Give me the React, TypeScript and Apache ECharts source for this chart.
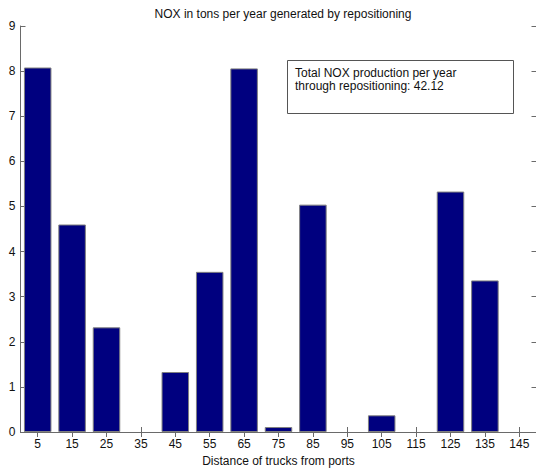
import React, { useEffect, useRef } from "react";
import * as echarts from "echarts";

// Distance bins (km from ports) and NOX tons per year for each bin
const distances: string[] = ["5", "15", "25", "35", "45", "55", "65", "75", "85", "95", "105", "115", "125", "135", "145"];
const noxTons: number[] = [8.08, 4.6, 2.32, 0, 1.33, 3.55, 8.06, 0.11, 5.04, 0, 0.37, 0, 5.33, 3.36, 0];
const yTicks = { min: 0, max: 9, interval: 1 };

const titleText = "NOX in tons per year generated by repositioning";
const xAxisTitle = "Distance of trucks from ports";
const noteLines: string[] = ["Total NOX production per year", "through repositioning: 42.12"];

const FONT = "'Liberation Sans', Arial, sans-serif";
const AXIS_COLOR = "#6a6a6a";
const TEXT_COLOR = "#111111";

export default function App() {
  const ref = useRef<HTMLDivElement>(null);

  useEffect(() => {
    if (!ref.current) return;
    const chart = echarts.init(ref.current, undefined, { renderer: "svg" });

    const tickStyle = { show: true, inside: true, length: 5, lineStyle: { color: AXIS_COLOR, width: 1 } };

    // empty bins get no outline so nothing shows on the baseline
    const barData = noxTons.map((v) =>
      v === 0 ? { value: v, itemStyle: { borderWidth: 0, opacity: 0 } } : v
    );

    chart.setOption({
      animation: false,
      backgroundColor: "#ffffff",
      textStyle: { fontFamily: FONT },
      title: {
        text: titleText,
        left: 278,
        textAlign: "center",
        top: 3,
        textStyle: { fontFamily: FONT, fontSize: 12, fontWeight: "normal", color: TEXT_COLOR },
      },
      grid: { left: 20.5, top: 26, width: 516, height: 406, containLabel: false, outerBoundsMode: "none" },
      xAxis: [
        {
          type: "category",
          data: distances,
          position: "bottom",
          boundaryGap: true,
          axisLine: { show: true, lineStyle: { color: AXIS_COLOR, width: 1 } },
          axisTick: { ...tickStyle, alignWithLabel: true },
          axisLabel: { color: TEXT_COLOR, fontSize: 12, fontFamily: FONT, margin: 6 },
          name: xAxisTitle,
          nameLocation: "middle",
          nameGap: 22,
          nameTextStyle: { color: TEXT_COLOR, fontSize: 12, fontFamily: FONT },
          splitLine: { show: false },
        },
        {
          type: "category",
          data: distances,
          position: "top",
          boundaryGap: true,
          axisLine: { show: true, lineStyle: { color: AXIS_COLOR, width: 1 } },
          axisTick: { ...tickStyle, alignWithLabel: true },
          axisLabel: { show: false },
          splitLine: { show: false },
        },
      ],
      yAxis: [
        {
          type: "value",
          ...yTicks,
          position: "left",
          axisLine: { show: true, lineStyle: { color: AXIS_COLOR, width: 1 } },
          axisTick: tickStyle,
          axisLabel: { color: TEXT_COLOR, fontSize: 12, fontFamily: FONT, margin: 5 },
          splitLine: { show: false },
        },
        {
          type: "value",
          ...yTicks,
          position: "right",
          axisLine: { show: true, lineStyle: { color: AXIS_COLOR, width: 1 } },
          axisTick: tickStyle,
          axisLabel: { show: false },
          splitLine: { show: false },
        },
      ],
      series: [
        {
          type: "bar",
          xAxisIndex: 0,
          yAxisIndex: 0,
          data: barData,
          barWidth: "80%",
          itemStyle: { color: "#00007f", borderColor: "#808080", borderWidth: 1 },
        },
      ],
      graphic: [
        {
          type: "rect",
          shape: { x: 287.5, y: 60.5, width: 226, height: 53 },
          style: { fill: "#ffffff", stroke: "#555555", lineWidth: 1 },
          z: 10,
        },
        {
          type: "text",
          x: 295,
          y: 66,
          style: {
            text: noteLines.join("\n"),
            fontFamily: FONT,
            fontSize: 12,
            lineHeight: 13,
            fill: TEXT_COLOR,
          },
          z: 11,
        },
      ],
    });

    return () => chart.dispose();
  }, []);

  return <div ref={ref} style={{ position: "fixed", left: 0, top: 0, width: 536, height: 468 }} />;
}
